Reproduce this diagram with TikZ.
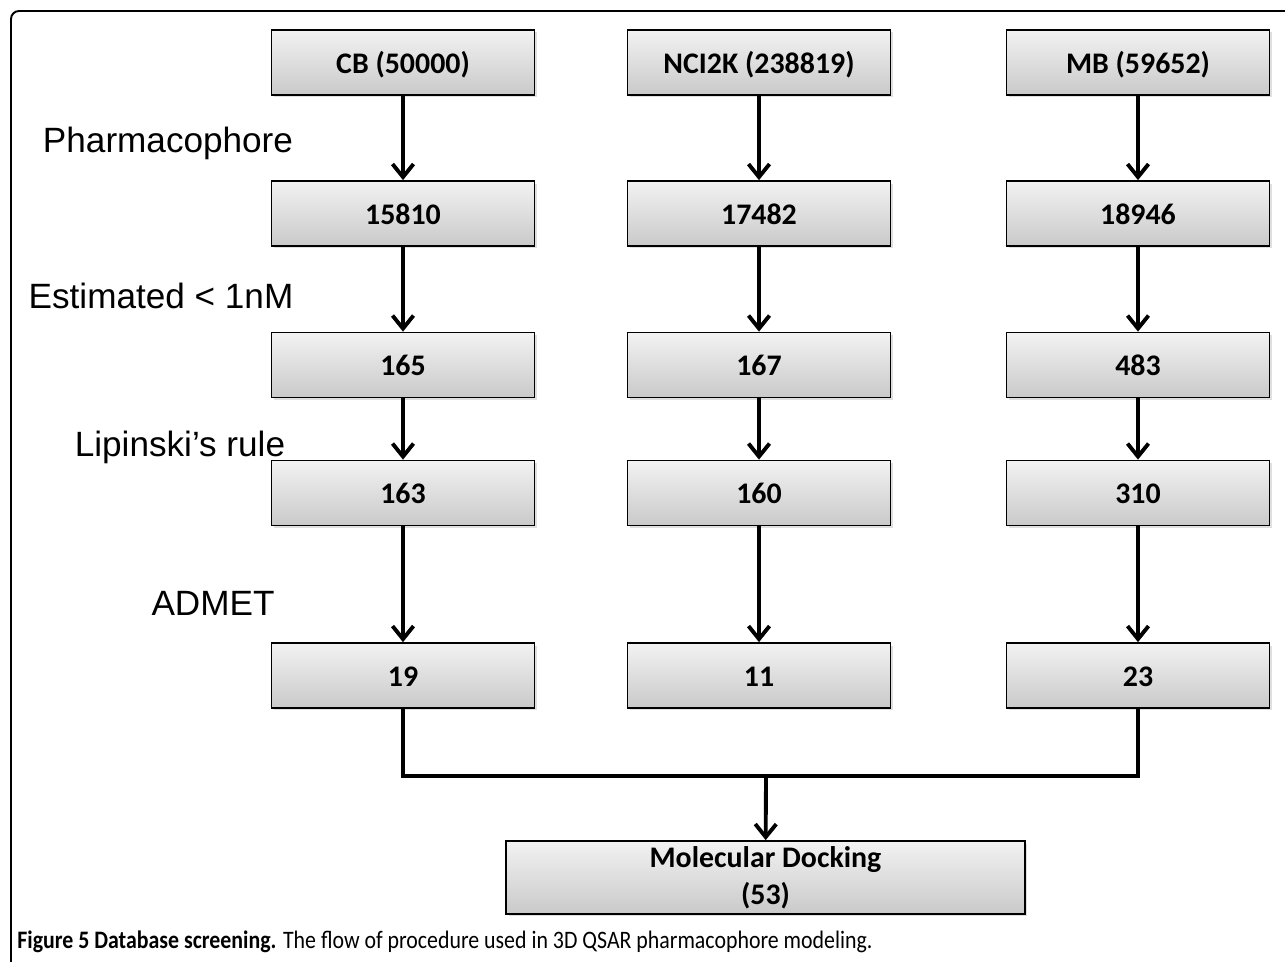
\documentclass[tikz,border=0pt]{standalone}
\usepackage{fontspec}
\setmainfont{Carlito}
\newfontfamily\labelfont{Liberation Sans}
\newfontfamily\captionfont{Carlito}[FakeStretch=0.87]
\usetikzlibrary{arrows.meta,shadows}
\tikzstyle{stage}=[draw=black, line width=1pt, top color=gray!10, bottom color=gray!42, minimum width=5.26cm, minimum height=1.3cm, inner sep=0pt, text height=14pt, text depth=1.5pt, font=\fontsize{17}{20.5}\selectfont\bfseries, drop shadow={shadow xshift=0.05cm, shadow yshift=-0.05cm, opacity=0.25}]
\tikzstyle{edge} = [draw, line width=2.2pt, -{Straight Barb[length=0.26cm, width=0.42cm]}]
\tikzstyle{link} = [draw, line width=2.2pt]
\tikzstyle{filter} = [font=\labelfont\fontsize{20}{24}\selectfont, inner sep=0pt]

\begin{document}
\begin{tikzpicture}[x=0.02cm, y=-0.02cm]

    \useasboundingbox (0,0) rectangle (1285,962);
    \draw[line width=1.1pt, rounded corners=0.16cm] (11,962) -- (11,11) -- (1285,11);

     \foreach \y/\r/\cb/\nci/\mb in {62.5/1/CB (50000)/NCI2K (238819)/MB (59652), 213.5/2/15810/17482/18946, 365/3/165/167/483, 493/4/163/160/310, 675.5/5/19/11/23}
     {
        \node[stage] (cb\r) at (403,\y) {\cb};
        \node[stage] (nci\r) at (759,\y) {\nci};
        \node[stage] (mb\r) at (1138,\y) {\mb};
     }

    \foreach \col in {cb, nci, mb}
        \foreach \source/\dest in {1/2, 2/3, 3/4, 4/5}
            \path[edge] (\col\source) -- (\col\dest);

    \node[filter] (pharm) at (168,143) {Pharmacophore};
    \node[filter] (estim) at (161,296) {Estimated < 1nM};
    \node[filter] (lipin) at (180,447) {Lipinski’s rule};
    \node[filter] (admet) at (213,603) {ADMET};

    \node[stage, text height=, text depth=, font=\fontsize{17}{21}\selectfont\bfseries, minimum width=10.38cm, minimum height=1.46cm, align=center] (dock) at (765.5,877.5) {Molecular Docking\\(53)};

    \coordinate (join) at (766,776);
    \path[link] (cb5) |- (join) -| (mb5);
    \path[edge] (join) -- (dock);

    \node[anchor=base west, inner sep=0pt, font=\captionfont\fontsize{14.3}{17}\selectfont] (caption) at (17,948)
        {\textbf{Figure 5 Database screening.} The flow of procedure used in 3D QSAR pharmacophore modeling.};

\end{tikzpicture}
\end{document}
